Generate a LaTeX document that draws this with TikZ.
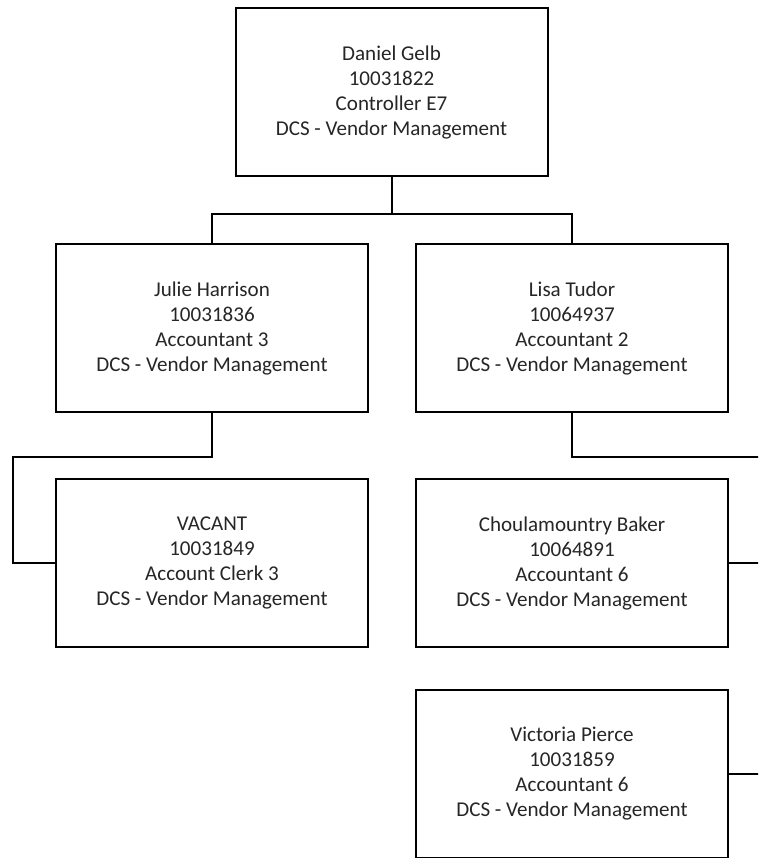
\documentclass[tikz,border=0pt]{standalone}
\usepackage{fontspec}
\setmainfont{Carlito}
\begin{document}
\begin{tikzpicture}[x=0.75pt,y=-0.75pt,
  person/.style={draw=black, line width=1.5pt, fill=white, rectangle,
    minimum width=312*0.75pt, minimum height=168*0.75pt, inner sep=0pt,
    align=center, text=black!85,
    font=\fontsize{15.8pt}{18.75pt}\selectfont},
  link/.style={draw=black, line width=1.5pt, line join=miter}]
  \clip (0,0) rectangle (758,858);

  % positions
  \node[person] (gelb)     at (391.5,92)  {Daniel Gelb\\10031822\\Controller E7\\DCS - Vendor Management};
  \node[person] (harrison) at (212,328)   {Julie Harrison\\10031836\\Accountant 3\\DCS - Vendor Management};
  \node[person] (tudor)    at (572,328)   {Lisa Tudor\\10064937\\Accountant 2\\DCS - Vendor Management};
  \node[person] (vacant)   at (212,563)   {VACANT\\10031849\\Account Clerk 3\\DCS - Vendor Management};
  \node[person] (baker)    at (572,563)   {Choulamountry Baker\\10064891\\Accountant 6\\DCS - Vendor Management};
  \node[person] (pierce)   at (572,774)   {Victoria Pierce\\10031859\\Accountant 6\\DCS - Vendor Management};

  % reporting lines
  \coordinate (topbus) at (391.5,214);
  \coordinate (leftrail) at (13,457);
  \coordinate (rightrail) at (762,457);

  \draw[link] (gelb.south) -- (topbus);
  \draw[link] (harrison.north) |- (topbus) -| (tudor.north);
  \draw[link] (harrison.south) |- (leftrail) |- (vacant.west);
  \draw[link] (tudor.south) |- (rightrail);
  \draw[link] (baker.east) -- (baker.east -| rightrail);
  \draw[link] (pierce.east) -- (pierce.east -| rightrail);
\end{tikzpicture}
\end{document}
